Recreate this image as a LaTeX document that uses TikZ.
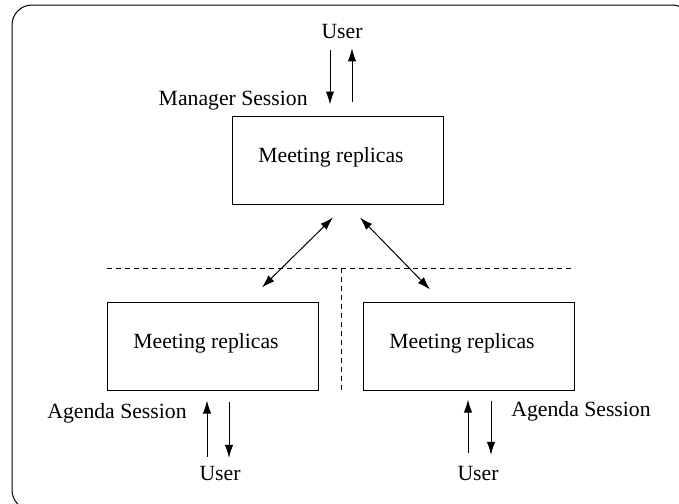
\documentclass[tikz,border=0pt]{standalone}
\usepackage{fontspec}
\setmainfont{Liberation Serif}
\usepackage{tikz}
\usetikzlibrary{positioning,calc,arrows.meta}

\begin{document}
\begin{tikzpicture}[x=0.5pt,y=-0.5pt]
    \tikzstyle{replica}=[draw=black,line width=0.5pt,minimum width=105.5pt,minimum height=44pt,
                         inner sep=0pt,text depth=5.4pt,font=\fontsize{10.85}{13}\selectfont]
    \tikzstyle{txt}=[inner sep=0pt,font=\fontsize{10.85}{13}\selectfont]
    \tikzstyle{link}=[line width=0.5pt,-{Latex[length=6.5pt,width=4.2pt]}]
    \tikzstyle{both}=[line width=0.5pt,{Latex[length=6.5pt,width=4.2pt]}-{Latex[length=6.5pt,width=4.2pt]}]
    \tikzstyle{divider}=[line width=0.5pt,dash pattern=on 2.5pt off 2pt]
    \useasboundingbox (0,0) rectangle (679,503);
    % frame
    \draw[line width=0.5pt,rounded corners=10pt] (12,5) rectangle (692,510);
    % replicas
    \node[replica] (mtop) at (337.5,160) {Meeting replicas\hspace*{6.5pt}};
    \node[replica] (mleft) at (212.5,346) {Meeting replicas\hspace*{6.5pt}};
    \node[replica] (mright) at (468.5,346) {Meeting replicas\hspace*{6.5pt}};
    % users
    \node[txt] (utop) at (342,31.7) {User};
    \node[txt] (uleft) at (220,473.5) {User};
    \node[txt] (uright) at (478,473.5) {User};
    % sessions
    \node[txt,anchor=base east] (smanager) at (308,105) {Manager Session};
    \node[txt,anchor=base east] (sleft) at (187,418) {Agenda Session};
    \node[txt,anchor=base west] (sright) at (511,416) {Agenda Session};
    % partitions
    \draw[divider] (107,268) -- (575,268);
    \draw[divider] (341,268) -- (341,392);
    % user <-> manager
    \draw[link,shorten <=5.5pt,shorten >=5.5pt] ([xshift=-6pt]utop.south) -- ([xshift=-6pt]utop.south |- mtop.north);
    \draw[link,shorten <=7pt,shorten >=4.5pt] ([xshift=5pt]utop.south |- mtop.north) -- ([xshift=5pt]utop.south);
    % manager <-> agendas
    \draw[both] ($(mtop.south)+(-4.5,13)$) -- ($(mleft.north)+(49.5,-14)$);
    \draw[both] ($(mtop.south)+(22.5,13)$) -- ($(mright.north)+(-38.5,-12)$);
    % user <-> agendas
    \draw[link,shorten <=4.5pt,shorten >=5pt] ([xshift=-6.5pt]uleft.north) -- ([xshift=-6.5pt]uleft.north |- mleft.south);
    \draw[link,shorten <=5.5pt,shorten >=4pt] ([xshift=4.5pt]uleft.north |- mleft.south) -- ([xshift=4.5pt]uleft.north);
    \draw[link,shorten <=6.5pt,shorten >=4.5pt] ([xshift=-5pt]uright.north) -- ([xshift=-5pt]uright.north |- mright.south);
    \draw[link,shorten <=5pt,shorten >=5.5pt] ([xshift=6.5pt]uright.north |- mright.south) -- ([xshift=6.5pt]uright.north);
\end{tikzpicture}
\end{document}
